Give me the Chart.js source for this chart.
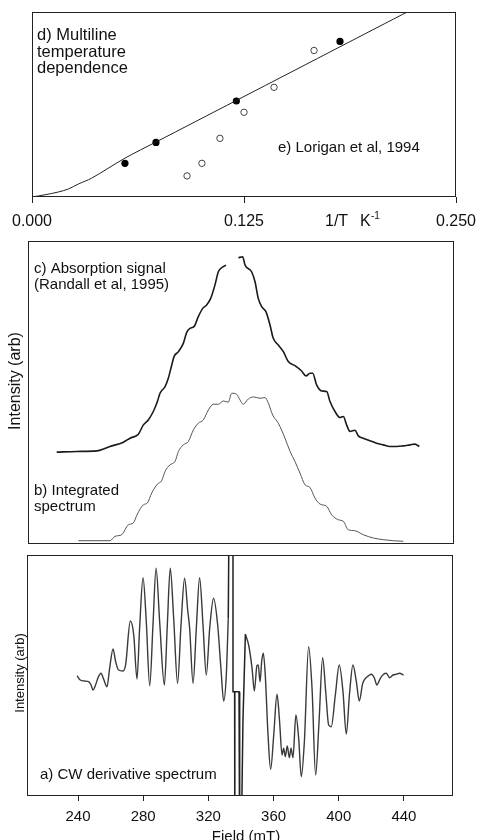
<!DOCTYPE html>
<html><head><meta charset="utf-8">
<script src="https://cdn.jsdelivr.net/npm/chart.js@4/dist/chart.umd.min.js"></script>
<style>
html,body{margin:0;padding:0;background:#fff;width:478px;height:840px;overflow:hidden;position:relative;}
canvas{position:absolute;left:0;}
</style></head><body>
<canvas id="c1" width="478" height="240" style="top:0px"></canvas>
<canvas id="c2" width="478" height="320" style="top:230px"></canvas>
<canvas id="c3" width="478" height="300" style="top:550px"></canvas>
<script>
// ---------- DATA ----------
// d) temperature dependence (x = 1/T in K^-1, y = relative multiline intensity)
const tempTickValues = [0, 0.125, 0.25];
const tempTickLabels = ["0.000", "0.125", "0.250"];
const fitLineX = [0, 0.0077, 0.0155, 0.0214, 0.0273, 0.0352, 0.0548, 0.0735, 0.1203, 0.1551, 0.1816, 0.2229, 0.2288];
const fitLineY = [0, 0.012, 0.027, 0.043, 0.070, 0.102, 0.210, 0.299, 0.521, 0.686, 0.812, 1.008, 1.036];
const solidX = [0.0548, 0.0731, 0.1205, 0.1816];
const solidY = [0.182, 0.295, 0.519, 0.841];
const openX = [0.0914, 0.1002, 0.1108, 0.125, 0.1427, 0.1663];
const openY = [0.114, 0.182, 0.317, 0.458, 0.593, 0.792];

// c) absorption signal, b) integrated spectrum (field mT, intensity arb)
const absField = [226.9,239.2,251.5,259.6,267.8,271.9,277.0,280.1,283.1,286.2,288.7,290.3,293.4,295.4,297.5,298.9,301.6,304.6,306.7,308.7,311.2,313.8,316.5,318.9,321.4,324.0,326.1,328.1,330.8,334.5,338.4,341.0,342.5,346.5,348.6,350.6,352.7,355.3,357.8,359.8,362.9,366.0,369.0,373.1,377.2,379.9,382.3,384.0,386.4,389.5,392.6,394.6,398.3,400.7,402.8,404.8,406.9,409.9,412.0,415.0,419.1,423.2,427.3,431.4,435.5,439.6,443.7,446.7,449.4];
const absInt = [92,92.7,93.3,97.7,102,106,110,119.3,124.3,132.7,142.7,151,157.7,166,179.3,187.7,192.7,201,212,216,217.7,227.7,236,239.3,246,259.3,272.7,276.7,279.3,null,286.7,287.7,279.3,272.7,262.7,246,237.7,232.7,219.3,206,199.3,192.7,182.7,178.7,173.3,168.3,171,171,159.3,153.3,152.7,142.7,131,126.7,127.7,119.3,112.7,114,108.3,106,103.3,101,99.3,97.7,97.7,98.3,99.3,100,97.7];
const integField = [240.2,259.6,262.7,266.8,270.9,273.9,276.4,280.1,282.5,285.2,288.7,291.3,293.4,296.4,299.5,301.6,304.6,307.7,310.8,313.8,316.9,320.0,323.0,326.1,329.2,332.2,334.3,337.3,339.4,341.4,344.5,347.6,351.7,354.7,356.8,359.4,362.9,367.0,370.1,373.1,376.2,379.3,382.3,385.4,388.5,392.6,395.6,399.7,402.8,405.8,409.9,415.0,421.2,427.3,433.5,439.6];
const integInt = [3.3,3.3,7.7,9.3,19.3,21,30,39.3,41,51,60,63.3,72.7,79.3,82.7,92.7,99.3,102.7,114.3,121,124.3,134.3,140,140,143.3,142,151,150,144.3,140,145.3,147.3,146,146.7,141,129.3,121,106,92.7,82.7,71,59.3,56.7,46,40,37.7,29.3,24.3,22.7,14.3,13.3,9.3,6,4.3,3.3,2.7];

// a) CW derivative spectrum (field mT, intensity arb)
const fieldTicks = [240, 280, 320, 360, 400, 440];
const derivFieldLo = [239.4,241.4,243.9,246.5,248.0,249.2,250.6,252.3,254.1,255.7,257.8,259.4,261.5,263.1,264.9,267.6,269.2,272.1,274.2,276.2,277.8,279.9,281.9,284.0,286.0,287.9,290.1,293.0,294.8,296.6,298.7,301.1,303.2,305.4,307.3,308.5,310.6,312.6,314.6,316.7,318.7,320.8,323.2,325.7,327.7,329.4,331.0,332.2];
const derivIntLo = [-0.7,-5,-6,-6.7,-10,-15,-10.7,-2.7,1.7,-4,-11.7,6.7,26,13.3,5,4,10,54,40,-4,46.7,97.3,53.3,-10.7,50,106.7,53.3,-10,50,106.7,56.7,-8.3,50,96.7,65,46.7,-8.3,46.7,97.3,50,0,46.7,76.7,50,6.7,-26,0,56.7];
const spikeField = [332.2,332.8,335.1,335.1,336.1,336.1,336.3,336.3,338.8,339.2,340.0,341.2,342.7];
const spikeInt = [56.7,190,190,-16.7,-16.7,-193,-193,-16.7,-16.7,-193,-193,-46.7,40.7];
const derivFieldHi = [342.7,344.7,346.8,348.2,349.8,350.6,351.7,352.7,353.7,354.9,356.6,358.2,360.1,362.1,363.7,365.2,366.2,367.2,368.4,369.7,370.7,371.9,373.7,375.4,377.0,378.9,381.5,383.6,385.8,387.9,390.1,392.0,393.8,395.4,397.9,400.3,402.6,404.6,406.7,408.7,410.8,412.6,414.7,416.7,418.3,420.0,421.8,423.4,425.5,427.5,429.2,431.2,433.3,435.3,437.3,439.8];
const derivIntHi = [40.7,30,6.7,-16,9.3,10,-6.7,13.3,21.7,0,-60,-94.3,-60,-19.3,-46.7,-80,-73.3,-81.7,-71,-82.7,-73.3,-82.7,-40,-63.3,-101.7,-66.7,28.3,-13.3,-100,-46.7,17.3,-16.7,-50,-51.7,-20,10,-16.7,-59,-16.7,10,-6.7,-26,-8.3,-2.7,-0.7,0.7,-2.7,-10,-3.3,0.7,1.7,-2.7,0,0.7,1.7,0];

// ---------- HELPERS ----------
const FONT = '"Liberation Sans", Arial, Helvetica, sans-serif';
const pts = (xs, ys) => xs.map((x, i) => ({x: x, y: ys[i]}));

const framePlugin = {
  id: 'frame',
  afterDatasetsDraw(chart) {
    const {ctx, chartArea: a} = chart;
    ctx.save();
    ctx.strokeStyle = '#222';
    ctx.lineWidth = 1;
    const l = Math.round(a.left), t = Math.round(a.top), r = Math.round(a.right), b = Math.round(a.bottom);
    ctx.strokeRect(l + 0.5, t + 0.5, r - l - 1, b - t - 1);
    ctx.restore();
  },
  afterDraw(chart, args, opts) {
    const ctx = chart.ctx;
    (opts.texts || []).forEach(o => {
      ctx.save();
      ctx.fillStyle = '#111';
      ctx.font = (o.size || 15) + 'px ' + FONT;
      ctx.textBaseline = 'alphabetic';
      ctx.textAlign = o.align || 'left';
      ctx.translate(o.x, o.y);
      if (o.rot) ctx.rotate(o.rot);
      ctx.fillText(o.t, 0, 0);
      ctx.restore();
    });
  }
};

function baseOpts() {
  return {
    responsive: false, animation: false, devicePixelRatio: 1, events: [],
    plugins: { legend: {display: false}, tooltip: {enabled: false} }
  };
}
function fixFit(h) {
  return s => { s.height = h; s.paddingLeft = 0; s.paddingRight = 0; };
}

// ---------- CHART 1: temperature dependence ----------
const o1 = baseOpts();
o1.layout = {padding: {top: 12, left: 32, right: 22, bottom: 3}};
o1.scales = {
  x: {
    type: 'linear', min: 0, max: 0.25,
    afterBuildTicks: s => { s.ticks = tempTickValues.map(v => ({value: v})); },
    afterFit: fixFit(40),
    ticks: {
      callback: (v) => tempTickLabels[tempTickValues.indexOf(v)],
      color: '#111', font: {family: FONT, size: 16}, padding: 9, maxRotation: 0, autoSkip: false
    },
    grid: {display: true, drawOnChartArea: false, drawTicks: true, tickLength: 6, color: '#222'},
    border: {display: false}
  },
  y: {type: 'linear', min: 0, max: 1, display: false}
};
o1.plugins.frame = {texts: [
  {t: 'd) Multiline', x: 37, y: 40, size: 16.5},
  {t: 'temperature', x: 37, y: 57, size: 16.5},
  {t: 'dependence', x: 37, y: 73, size: 16.5},
  {t: 'e) Lorigan et al, 1994', x: 278, y: 152},
  {t: '1/T', x: 325, y: 226, size: 16},
  {t: 'K', x: 360, y: 226, size: 16},
  {t: '-1', x: 371, y: 219, size: 10}
]};
new Chart(document.getElementById('c1'), {
  type: 'scatter',
  data: {datasets: [
    {data: pts(fitLineX, fitLineY), showLine: true, borderColor: '#222', borderWidth: 1, pointRadius: 0, tension: 0.3},
    {data: pts(solidX, solidY), pointRadius: 3.6, pointBackgroundColor: '#000', pointBorderColor: '#000', pointBorderWidth: 0},
    {data: pts(openX, openY), pointRadius: 3.2, pointBackgroundColor: '#fff', pointBorderColor: '#444', pointBorderWidth: 1}
  ]},
  options: o1,
  plugins: [framePlugin]
});

// ---------- CHART 2: absorption & integrated ----------
const o2 = baseOpts();
o2.layout = {padding: {top: 11, left: 28, right: 24, bottom: 6}};
o2.scales = {
  x: {type: 'linear', min: 209.3, max: 470.7, display: false},
  y: {type: 'linear', min: 0, max: 303.5, display: false}
};
o2.plugins.frame = {texts: [
  {t: 'c) Absorption signal', x: 34, y: 43},
  {t: '(Randall et al, 1995)', x: 34, y: 59},
  {t: 'b) Integrated', x: 34, y: 265},
  {t: 'spectrum', x: 34, y: 281},
  {t: 'Intensity (arb)', x: 20, y: 151, size: 16, rot: -Math.PI / 2, align: 'center'}
]};
new Chart(document.getElementById('c2'), {
  type: 'scatter',
  data: {datasets: [
    {data: pts(absField, absInt), showLine: true, spanGaps: false, borderColor: '#1a1a1a', borderWidth: 1.6, pointRadius: 0, tension: 0.4, cubicInterpolationMode: 'monotone'},
    {data: pts(integField, integInt), showLine: true, borderColor: '#555', borderWidth: 1, pointRadius: 0, tension: 0.4, cubicInterpolationMode: 'monotone'}
  ]},
  options: o2,
  plugins: [framePlugin]
});

// ---------- CHART 3: CW derivative ----------
const o3 = baseOpts();
o3.layout = {padding: {top: 5, left: 27, right: 25, bottom: 0}};
o3.scales = {
  x: {
    type: 'linear', min: 208.7, max: 470.1,
    afterBuildTicks: s => { s.ticks = fieldTicks.map(v => ({value: v})); },
    afterFit: fixFit(54),
    ticks: {color: '#111', font: {family: FONT, size: 15}, padding: 7, maxRotation: 0, autoSkip: false},
    grid: {display: true, drawOnChartArea: false, drawTicks: true, tickLength: 5, color: '#222'},
    border: {display: false}
  },
  y: {type: 'linear', min: -121, max: 120, display: false}
};
o3.plugins.frame = {texts: [
  {t: 'a) CW derivative spectrum', x: 40, y: 229},
  {t: 'Intensity (arb)', x: 24, y: 123, size: 13, rot: -Math.PI / 2, align: 'center'},
  {t: 'Field (mT)', x: 246, y: 291, align: 'center'}
]};
new Chart(document.getElementById('c3'), {
  type: 'scatter',
  data: {datasets: [
    {data: pts(derivFieldLo, derivIntLo), showLine: true, borderColor: '#3a3a3a', borderWidth: 1.4, pointRadius: 0, tension: 0.4, cubicInterpolationMode: 'monotone'},
    {data: pts(spikeField, spikeInt), showLine: true, borderColor: '#222', borderWidth: 1.5, pointRadius: 0, tension: 0},
    {data: pts(derivFieldHi, derivIntHi), showLine: true, borderColor: '#3a3a3a', borderWidth: 1.4, pointRadius: 0, tension: 0.4, cubicInterpolationMode: 'monotone'}
  ]},
  options: o3,
  plugins: [framePlugin]
});
</script>
</body></html>
